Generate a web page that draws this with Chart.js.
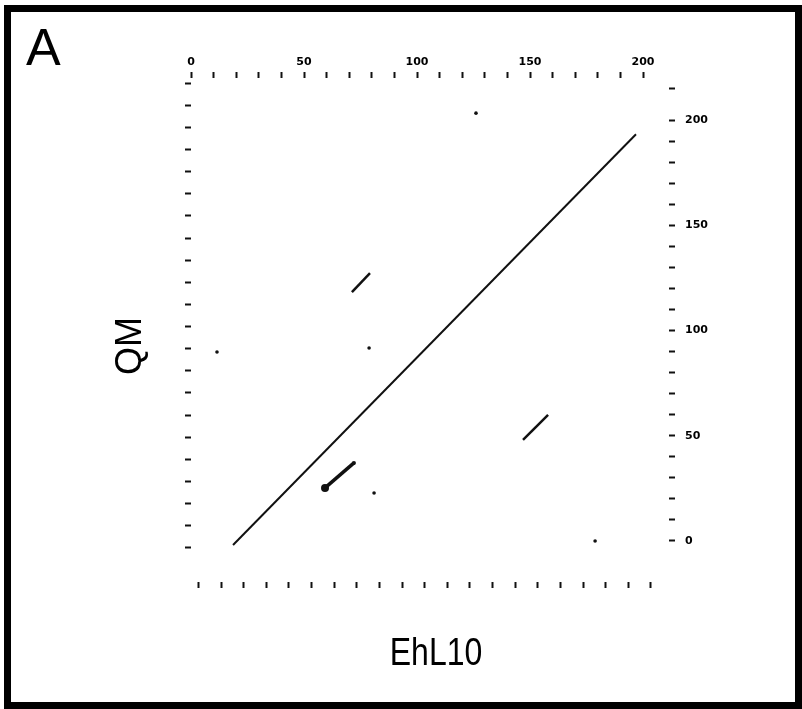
<!DOCTYPE html>
<html>
<head>
<meta charset="utf-8">
<script src="https://cdn.jsdelivr.net/npm/chart.js@4.4.1/dist/chart.umd.min.js"></script>
<style>
  html, body { margin: 0; padding: 0; background: #fff; }
  #wrap { position: relative; width: 802px; height: 709px; }
  #frame { position: absolute; left: 4px; top: 5px; right: 0; bottom: 0; border: 7px solid #000; box-sizing: border-box; pointer-events: none; }
</style>
</head>
<body>
<div id="wrap">
  <canvas id="dotPlot"></canvas>
  <div id="frame"></div>
</div>
<script>
// dot plot EhL10 (x) vs QM (y)
const mainDiagX = [18.6, 196.9];
const mainDiagY = [-1.9, 193.3];
const upperSegX = [71.2, 79.2];
const upperSegY = [118.3, 127.3];
const lowerSegX = [59.3, 72.1];
const lowerSegY = [25.2, 37.1];
const rightSegX = [146.9, 158.0];
const rightSegY = [48.0, 59.9];
const dotsX = [78.8, 81.0, 178.8, 11.5, 126.1];
const dotsY = [91.7, 22.8, 0.0, 89.8, 203.3];

// tick values on each side of the box
const topTicks = [0, 10, 20, 30, 40, 50, 60, 70, 80, 90, 100, 110, 120, 130, 140, 150, 160, 170, 180, 190, 200];
const bottomTicks = [0, 10, 20, 30, 40, 50, 60, 70, 80, 90, 100, 110, 120, 130, 140, 150, 160, 170, 180, 190, 200];
const rightTicks = [0, 10, 20, 30, 40, 50, 60, 70, 80, 90, 100, 110, 120, 130, 140, 150, 160, 170, 180, 190, 200, 215];
const leftTicks = [0, 10, 20, 30, 40, 50, 60, 70, 80, 90, 100, 110, 120, 130, 140, 150, 160, 170, 180, 190, 200, 210];
const labelledTicks = [0, 50, 100, 150, 200];

const toPoints = (xs, ys) => xs.map((x, i) => ({ x: x, y: ys[i] }));

function segment(xs, ys, width, radius) {
    return {
        data: toPoints(xs, ys),
        showLine: true,
        borderColor: '#111',
        backgroundColor: '#111',
        borderWidth: width,
        pointRadius: radius,
        pointBorderWidth: 0,
        xAxisID: 'x',
        yAxisID: 'y'
    };
}

const tickFont = { family: 'DejaVu Sans', size: 11, weight: 'bold' };
const markGrid = { display: true, drawOnChartArea: false, drawTicks: true, tickLength: 6, tickWidth: 2, tickColor: '#111' };
const setTicks = (list) => (axis) => { axis.ticks = list.map(v => ({ value: v })); };
const showLabel = (v) => labelledTicks.includes(v) ? String(v) : '';

// letters drawn on the canvas: panel tag, rotated y title, narrow x title
const panelText = {
    id: 'panelText',
    afterDraw(chart) {
        const ctx = chart.ctx;
        ctx.save();
        ctx.fillStyle = '#000';
        ctx.font = '52px "Liberation Sans"';
        ctx.textBaseline = 'alphabetic';
        ctx.textAlign = 'left';
        ctx.fillText('A', 26, 65);

        ctx.save();
        ctx.translate(141, 346);
        ctx.rotate(-Math.PI / 2);
        ctx.textAlign = 'center';
        ctx.font = '36px "Liberation Sans"';
        ctx.fillText('QM', 0, 0);
        ctx.restore();

        ctx.translate(436, 665);
        ctx.scale(0.82, 1);
        ctx.textAlign = 'center';
        ctx.font = '39px "Liberation Sans"';
        ctx.fillText('EhL10', 0, 0);
        ctx.restore();
    }
};

const ctx = document.getElementById('dotPlot').getContext('2d');
const chart = new Chart(ctx, {
    type: 'scatter',
    data: {
        datasets: [
            segment(mainDiagX, mainDiagY, 2, 0),
            segment(upperSegX, upperSegY, 2.5, 0),
            segment(lowerSegX, lowerSegY, 3.5, [4, 2]),
            segment(rightSegX, rightSegY, 2.5, 0),
            {
                data: toPoints(dotsX, dotsY),
                showLine: false,
                backgroundColor: '#111',
                borderWidth: 0,
                pointRadius: 1.8,
                xAxisID: 'x',
                yAxisID: 'y'
            }
        ]
    },
    options: {
        responsive: true,
        maintainAspectRatio: false,
        animation: false,
        layout: { padding: 0 },
        plugins: {
            legend: { display: false },
            tooltip: { enabled: false }
        },
        scales: {
            x: {
                type: 'linear',
                position: 'top',
                min: 0,
                max: 211.5,
                afterBuildTicks: setTicks(topTicks),
                afterFit: (s) => { s.height = 78; },
                grid: markGrid,
                border: { display: false },
                ticks: { callback: showLabel, autoSkip: false, maxRotation: 0, padding: 3, color: '#000', font: tickFont }
            },
            x2: {
                type: 'linear',
                position: 'bottom',
                min: -3.3,
                max: 208,
                afterBuildTicks: setTicks(bottomTicks),
                afterFit: (s) => { s.height = 127; },
                grid: markGrid,
                border: { display: false },
                ticks: { callback: () => '', autoSkip: false, maxRotation: 0 }
            },
            y: {
                type: 'linear',
                position: 'right',
                min: -19.5,
                max: 220,
                afterBuildTicks: setTicks(rightTicks),
                afterFit: (s) => { s.width = 133; },
                grid: markGrid,
                border: { display: false },
                ticks: { callback: showLabel, autoSkip: false, padding: 10, color: '#000', font: tickFont }
            },
            y2: {
                type: 'linear',
                position: 'left',
                min: -15.4,
                max: 212.3,
                afterBuildTicks: setTicks(leftTicks),
                afterFit: (s) => { s.width = 191; },
                grid: markGrid,
                border: { display: false },
                ticks: { callback: () => '', autoSkip: false }
            }
        }
    },
    plugins: [panelText]
});
</script>
</body>
</html>
